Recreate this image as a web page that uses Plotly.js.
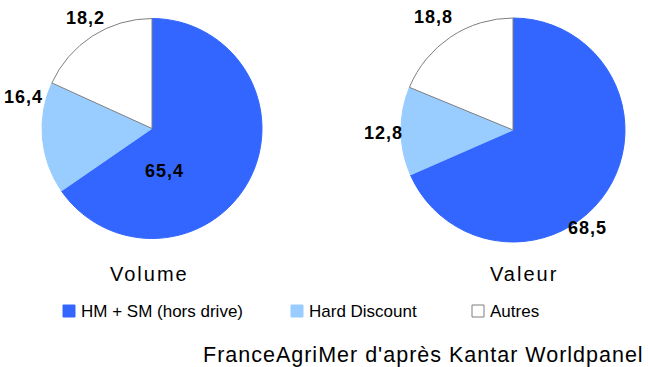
<!DOCTYPE html>
<html><head><meta charset="utf-8">
<script src="https://cdn.plot.ly/plotly-3.0.1.min.js"></script>
<style>html,body{margin:0;padding:0;background:#fff;}</style>
</head><body>
<div id="chart" style="width:648px;height:367px;"></div>
<script>
// Data
const categories = ["HM + SM (hors drive)", "Hard Discount", "Autres"];
const volumeValues = [65.4, 16.4, 18.2];
const valeurValues = [68.5, 12.8, 18.8];
const pieTitles = ["Volume", "Valeur"];
const sourceText = "FranceAgriMer d'après Kantar Worldpanel";

const colors = ["#3366FF", "#99CCFF", "#FFFFFF"];
const lineColors = ["#3366FF", "#99CCFF", "#7F7F7F"];
const W = 648, H = 367;
const px = x => x / W, py = y => 1 - y / H;
const fmt = v => v.toFixed(1).replace('.', ',');
const ls = (t, s) => '<span style="letter-spacing:' + s + 'px">' + t + '</span>';
const FAM = 'Liberation Sans, Arial, sans-serif';

function pie(values, cx, cy, r) {
  return {
    type: 'pie', values: values, labels: categories, sort: false,
    direction: 'clockwise', rotation: 0, textinfo: 'none', hoverinfo: 'label+value',
    marker: {colors: colors, line: {color: lineColors, width: 1}},
    domain: {x: [px(cx - r), px(cx + r)], y: [py(cy + r), py(cy - r)]},
    showlegend: false
  };
}
const data = [pie(volumeValues, 152, 128.5, 110), pie(valeurValues, 513, 130, 112)];

const labelFont = {family: FAM, size: 18, color: '#000'};
const valuePos = [
  [[164, 171], [23, 97], [85, 18]],
  [[587, 228], [383, 133], [433, 17]]
];
const annotations = [];
[volumeValues, valeurValues].forEach((vals, i) => {
  vals.forEach((v, j) => {
    annotations.push({xref: 'paper', yref: 'paper', x: px(valuePos[i][j][0]), y: py(valuePos[i][j][1]),
      text: '<b>' + ls(fmt(v), 1) + '</b>', showarrow: false, xanchor: 'center', yanchor: 'middle', font: labelFont});
  });
});
const titlePos = [[149, 274], [524, 274]];
pieTitles.forEach((t, i) => annotations.push({xref: 'paper', yref: 'paper', x: px(titlePos[i][0]), y: py(titlePos[i][1]),
  text: ls(t, 2), showarrow: false, xanchor: 'center', yanchor: 'middle',
  font: {family: FAM, size: 20, color: '#000'}}));

// custom legend
const legX = [63, 291, 472];
const legY = 311;
const shapes = [];
categories.forEach((c, i) => {
  shapes.push({type: 'rect', xref: 'paper', yref: 'paper', x0: px(legX[i]), x1: px(legX[i] + 12),
    y0: py(legY + 6), y1: py(legY - 6), fillcolor: colors[i], line: {color: lineColors[i], width: 1}});
  annotations.push({xref: 'paper', yref: 'paper', x: px(legX[i] + 16), y: py(legY), text: c, showarrow: false,
    xanchor: 'left', yanchor: 'middle', font: {family: FAM, size: 17, color: '#000'}});
});
annotations.push({xref: 'paper', yref: 'paper', x: px(646), y: py(355), text: ls(sourceText, 1), showarrow: false,
  xanchor: 'right', yanchor: 'middle', font: {family: FAM, size: 21.5, color: '#000'}});

const layout = {width: W, height: H, margin: {l: 0, r: 0, t: 0, b: 0}, paper_bgcolor: '#fff',
  showlegend: false, annotations: annotations, shapes: shapes};
Plotly.newPlot('chart', data, layout, {staticPlot: true, displayModeBar: false});
</script>
</body></html>
